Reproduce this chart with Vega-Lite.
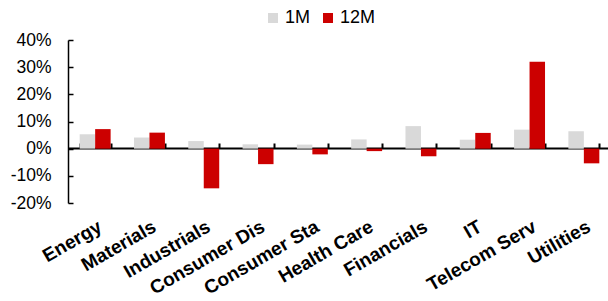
{
  "$schema": "https://vega.github.io/schema/vega-lite/v6.json",
  "autosize": "none",
  "padding": {"left": 68, "top": 40, "right": 0, "bottom": 98},
  "width": 543,
  "height": 163,
  "background": "white",
  "config": {
    "view": {"stroke": null},
    "font": "Liberation Sans"
  },
  "data": {
    "values": [
      {"sector": "Energy", "series": "1M", "value": 5.3},
      {"sector": "Energy", "series": "12M", "value": 7.2},
      {"sector": "Materials", "series": "1M", "value": 4.1},
      {"sector": "Materials", "series": "12M", "value": 5.9},
      {"sector": "Industrials", "series": "1M", "value": 2.8},
      {"sector": "Industrials", "series": "12M", "value": -14.6},
      {"sector": "Consumer Dis", "series": "1M", "value": 1.6},
      {"sector": "Consumer Dis", "series": "12M", "value": -5.7},
      {"sector": "Consumer Sta", "series": "1M", "value": 1.5},
      {"sector": "Consumer Sta", "series": "12M", "value": -2.1},
      {"sector": "Health Care", "series": "1M", "value": 3.4},
      {"sector": "Health Care", "series": "12M", "value": -0.9},
      {"sector": "Financials", "series": "1M", "value": 8.3},
      {"sector": "Financials", "series": "12M", "value": -2.8},
      {"sector": "IT", "series": "1M", "value": 3.3},
      {"sector": "IT", "series": "12M", "value": 5.8},
      {"sector": "Telecom Serv", "series": "1M", "value": 7.0},
      {"sector": "Telecom Serv", "series": "12M", "value": 32.0},
      {"sector": "Utilities", "series": "1M", "value": 6.4},
      {"sector": "Utilities", "series": "12M", "value": -5.4}
    ]
  },
  "mark": {"type": "bar"},
  "encoding": {
    "x": {
      "field": "sector",
      "type": "nominal",
      "sort": null,
      "scale": {"paddingInner": 0.43, "paddingOuter": 0.215},
      "axis": {
        "title": null,
        "offset": -55,
        "domain": true,
        "domainColor": "black",
        "domainWidth": 2,
        "ticks": true,
        "tickBand": "extent",
        "tickSize": -5,
        "tickColor": "black",
        "tickWidth": 2,
        "labelAngle": -30,
        "labelAlign": "right",
        "labelBaseline": "top",
        "labelPadding": 74,
        "labelFont": "Liberation Sans",
        "labelFontSize": 19,
        "labelFontWeight": "bold",
        "labelColor": "black",
        "grid": false
      }
    },
    "xOffset": {"field": "series", "type": "nominal", "sort": ["1M", "12M"]},
    "y": {
      "field": "value",
      "type": "quantitative",
      "scale": {"domain": [-20, 40], "nice": false},
      "axis": {
        "title": null,
        "values": [-20, -10, 0, 10, 20, 30, 40],
        "labelExpr": "datum.value + '%'",
        "grid": false,
        "domain": true,
        "domainColor": "black",
        "domainWidth": 1.5,
        "ticks": true,
        "tickSize": -5,
        "tickColor": "black",
        "tickWidth": 1.5,
        "labelPadding": 22,
        "labelFont": "Liberation Sans",
        "labelFontSize": 17.5,
        "labelColor": "black"
      }
    },
    "color": {
      "field": "series",
      "type": "nominal",
      "sort": ["1M", "12M"],
      "scale": {"domain": ["1M", "12M"], "range": ["#D9D9D9", "#CC0000"]},
      "legend": {
        "title": null,
        "orient": "none",
        "legendX": 196,
        "legendY": -31,
        "direction": "horizontal",
        "symbolType": "square",
        "symbolSize": 100,
        "symbolStrokeWidth": 0,
        "labelFont": "Liberation Sans",
        "labelFontSize": 18,
        "labelColor": "black",
        "labelOffset": 3,
        "columnPadding": 8
      }
    }
  }
}
